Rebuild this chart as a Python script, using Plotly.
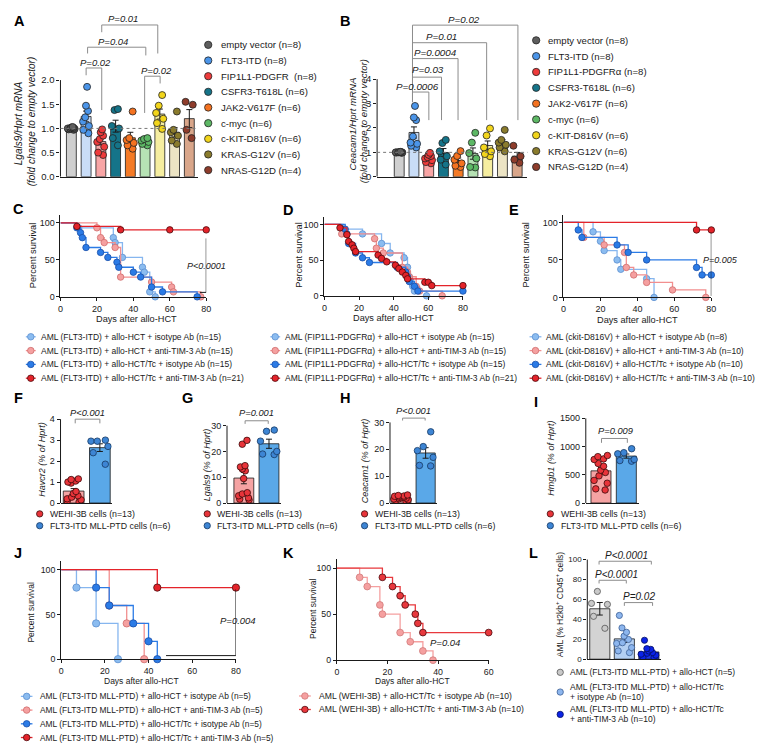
import numpy as np
import plotly.graph_objects as go

FONT = "Liberation Sans, Arial, Helvetica, sans-serif"
W, H = 768, 743
INK = '#1a1a1a'
BRK = '#8c8c8c'

# ---------------- DATA ----------------
# Panel A: Lgals9/Hprt mRNA (fold change to empty vector)
a_groups = ["empty vector (n=8)", "FLT3-ITD (n=8)", "FIP1L1-PDGFR\u00a0 (n=8)", "CSFR3-T618L (n=6)",
            "JAK2-V617F (n=6)", "c-myc (n=6)", "c-KIT-D816V (n=6)", "KRAS-G12V (n=6)", "NRAS-G12D (n=4)"]
a_empty = [1.0, 1.02, 0.98, 1.01, 0.99, 1.0, 1.03, 0.97]
a_flt3 = [1.86, 1.47, 1.36, 1.23, 1.14, 1.05, 0.97, 0.90]
a_fip = [0.98, 0.92, 0.85, 0.78, 0.72, 0.62, 0.50, 0.45]
a_csf = [1.40, 1.38, 1.05, 1.00, 0.80, 0.65]
a_jak = [1.35, 0.80, 0.76, 0.70, 0.65, 0.58]
a_myc = [0.80, 0.78, 0.75, 0.72, 0.68, 0.65]
a_kit = [1.69, 1.47, 1.32, 1.20, 1.11, 0.99]
a_kras = [1.35, 0.97, 0.92, 0.85, 0.75, 0.68]
a_nras = [1.55, 1.49, 0.97, 0.80]

# Panel B: Ceacam1/Hprt mRNA (fold change to empty vector)
b_groups = ["empty vector (n=8)", "FLT3-ITD (n=8)", "FIP1L1-PDGFR\u03b1 (n=8)", "CSFR3-T618L (n=6)",
            "JAK2-V617F (n=6)", "c-myc (n=6)", "c-KIT-D816V (n=6)", "KRAS-G12V (n=6)", "NRAS-G12D (n=4)"]
b_empty = [1.0, 1.01, 0.99, 1.02, 0.98, 1.0, 1.01, 0.99]
b_flt3 = [2.90, 2.43, 2.32, 1.65, 1.40, 1.35, 1.27, 1.20]
b_fip = [0.98, 0.90, 0.85, 0.80, 0.75, 0.68, 0.60, 0.55]
b_csf = [1.51, 1.38, 1.04, 0.84, 0.70, 0.50]
b_jak = [1.05, 0.85, 0.70, 0.55, 0.45, 0.40]
b_myc = [1.80, 1.40, 0.97, 0.75, 0.40, 0.38]
b_kit = [1.98, 1.69, 1.20, 1.04, 0.93, 0.84]
b_kras = [1.92, 1.51, 1.40, 1.31, 1.20, 1.04]
b_nras = [1.27, 0.84, 0.70, 0.57]

# Panel C: AML (FLT3-ITD) survival
c_labels = ["AML (FLT3-ITD) + allo-HCT + isotype Ab (n=15)", "AML (FLT3-ITD) + allo-HCT + anti-TIM-3 Ab (n=15)",
            "AML (FLT3-ITD) + allo-HCT/Tc + isotype Ab (n=15)", "AML (FLT3-ITD) + allo-HCT/Tc + anti-TIM-3 Ab (n=21)"]
c_hct_iso_t = [0, 10, 29, 30, 34, 45, 46, 49, 52]
c_hct_iso_s = [100, 93.3, 80, 73.3, 53.3, 40, 33.3, 6.7, 0]
c_hct_tim_t = [0, 20, 22, 24, 30, 33, 50, 61, 62, 77]
c_hct_tim_s = [100, 93.3, 80, 73.3, 66.7, 26.7, 20, 13.3, 6.7, 0]
c_tc_iso_t = [0, 9, 11, 12, 14, 22, 26, 31, 32, 40, 44, 50, 56, 75]
c_tc_iso_s = [100, 93.3, 86.7, 80, 66.7, 60, 53.3, 46.7, 40, 33.3, 26.7, 13.3, 6.7, 0]
c_tc_tim_t = [0, 9, 33, 60, 80]
c_tc_tim_s = [100, 95.2, 90.5, 90.5, 90.5]

# Panel D: AML (FIP1L1-PDGFRa) survival
d_labels = ["AML (FIP1L1-PDGFR\u03b1) + allo-HCT + isotype Ab (n=15)", "AML (FIP1L1-PDGFR\u03b1) + allo-HCT + anti-TIM-3 Ab (n=15)",
            "AML (FIP1L1-PDGFR\u03b1) + allo-HCT/Tc + isotype Ab (n=15)", "AML (FIP1L1-PDGFR\u03b1) + allo-HCT/Tc + anti-TIM-3 Ab (n=21)"]
d_hct_iso_t = [0, 11, 22, 33, 38, 46, 48, 49, 50, 51, 52, 59]
d_hct_iso_s = [100, 93.3, 86.7, 73.3, 60, 53.3, 40, 26.7, 20, 13.3, 6.7, 0]
d_hct_tim_t = [0, 10, 29, 30, 34, 45, 48, 49, 53, 55, 68]
d_hct_tim_s = [100, 86.7, 80, 66.7, 60, 40, 33.3, 26.7, 13.3, 6.7, 0]
d_tc_iso_t = [0, 12, 13, 14, 18, 22, 26, 42, 47, 48, 49, 52, 54, 80]
d_tc_iso_s = [100, 93.3, 86.7, 73.3, 60, 53.3, 46.7, 40, 33.3, 26.7, 20, 13.3, 6.7, 6.7]
d_tc_tim_t = [0, 9, 13, 14, 16, 17, 18, 31, 33, 36, 41, 43, 45, 47, 48, 58, 60, 62, 80]
d_tc_tim_s = [100, 95.2, 85.7, 76.2, 71.4, 66.7, 61.9, 57.1, 52.4, 47.6, 42.9, 38.1, 33.3, 28.6, 23.8, 19.0, 19.0, 14.3, 14.3]

# Panel E: AML (ckit-D816V) survival
e_labels = ["AML (ckit-D816V) + allo-HCT + isotype Ab (n=8)", "AML (ckit-D816V) + allo-HCT + anti-TIM-3 Ab (n=10)",
            "AML (ckit-D816V) + allo-HCT/Tc + isotype Ab (n=10)", "AML (ckit-D816V) + allo-HCT/Tc + anti-TIM-3 Ab (n=10)"]
e_hct_iso_t = [0, 16, 20, 22, 29, 31, 45, 49]
e_hct_iso_s = [100, 87.5, 75, 62.5, 50, 37.5, 25, 0]
e_hct_tim_t = [0, 11, 22, 33, 34, 38, 45, 59, 77]
e_hct_tim_s = [100, 80, 70, 60, 40, 30, 20, 10, 0]
e_tc_iso_t = [0, 8, 10, 29, 35, 45, 72, 75, 80]
e_tc_iso_s = [100, 90, 80, 70, 60, 50, 40, 30, 30]
e_tc_tim_t = [0, 72, 80]
e_tc_tim_s = [100, 90, 90]

# Panels F-I: expression in WEHI-3B vs FLT3-ITD MLL-PTD cells
fi_labels = ["WEHI-3B cells (n=13)", "FLT3-ITD MLL-PTD cells (n=6)"]
f_wehi = [1.15, 1.12, 1.05, 1.0, 0.95, 0.55, 0.45, 0.35, 0.28, 0.2, 0.15, 0.1, 0.05]
f_flt3 = [3.0, 2.95, 2.95, 2.7, 2.4, 1.85]
g_wehi = [24.3, 22.8, 14.5, 14.0, 13.2, 12.5, 9.5, 4.0, 3.5, 2.8, 2.0, 1.5, 1.2]
g_flt3 = [28.3, 27.8, 24.0, 20.0, 19.0, 18.8]
h_wehi = [3.0, 2.8, 2.6, 2.5, 2.3, 2.2, 2.0, 1.8, 1.6, 1.5, 1.2, 1.0, 0.8]
h_flt3 = [26.5, 21.0, 19.5, 17.0, 13.8, 14.0]
i_wehi = [840, 820, 780, 770, 700, 650, 580, 540, 480, 400, 350, 250, 230]
i_flt3 = [960, 890, 870, 770, 750, 740]

# Panel J: AML (FLT3-ITD MLL-PTD) survival
j_labels = ["AML (FLT3-ITD MLL-PTD) + allo-HCT + isotype Ab (n=5)", "AML (FLT3-ITD MLL-PTD) + allo-HCT + anti-TIM-3 Ab (n=5)",
            "AML (FLT3-ITD MLL-PTD) + allo-HCT/Tc + isotype Ab (n=5)", "AML (FLT3-ITD MLL-PTD) + allo-HCT/Tc + anti-TIM-3 Ab (n=5)"]
j_hct_iso_t = [0, 7, 16, 26]
j_hct_iso_s = [100, 80, 40, 0]
j_hct_tim_t = [0, 22, 30, 38]
j_hct_tim_s = [100, 60, 40, 0]
j_tc_iso_t = [0, 16, 22, 33, 40, 44]
j_tc_iso_s = [100, 80, 60, 40, 20, 0]
j_tc_tim_t = [0, 44, 80]
j_tc_tim_s = [100, 80, 80]

# Panel K: AML (WEHI-3B) survival
k_labels = ["AML (WEHI-3B) + allo-HCT/Tc + isotype Ab (n=10)", "AML (WEHI-3B) + allo-HCT/Tc + anti-TIM-3 Ab (n=10)"]
k_iso_t = [0, 9, 12, 17, 18, 25, 29, 34, 38]
k_iso_s = [100, 90, 80, 60, 50, 30, 20, 10, 0]
k_tim_t = [0, 18, 22, 25, 27, 31, 32, 34, 60]
k_tim_s = [100, 90, 80, 70, 60, 50, 40, 30, 30]

# Panel L: AML (% H2kb+ CD45+ cells)
l_labels = [["AML (FLT3-ITD MLL-PTD) + allo-HCT (n=5)"],
            ["AML (FLT3-ITD MLL-PTD) + allo-HCT/Tc", "+ isotype Ab (n=10)"],
            ["AML (FLT3-ITD MLL-PTD) + allo-HCT/Tc", "+ anti-TIM-3 Ab (n=10)"]]
l_hct = [68, 56, 55, 43, 31]
l_tc_iso = [43.9, 31.4, 27, 23.1, 19.8, 16.5, 15.8, 11.6, 8.3, 6.6]
l_tc_tim = [19, 10.6, 9.9, 8.3, 6.6, 5.9, 5, 4, 1.7, 1.7]

# ---------------- STYLE ----------------
ab_dot = ['#5e5e5e', '#4b95e9', '#ee3b3b', '#157489', '#f47220', '#5db865', '#f2d51b', '#8a7b2c', '#8e3c2b']
ab_fill = ['#cfcfcf', '#c9ddf7', '#f8a5a5', '#157489', '#f47a26', '#b6e2b4', '#f6eea0', '#ece4c4', '#d9a68a']
LB = ('#86b6ef', '#8bbcf0', '#5d8fcf')
PK = ('#f28f8f', '#f5a0a0', '#cf6d6d')
DB = ('#2b7be6', '#2b7be6', '#1b4fa8')
RD = ('#e4232a', '#e4232a', '#4a0a0c')
surv_styles = [LB, PK, DB, RD]
RED_DOT, RED_OUT, RED_FILL = '#e8343a', '#3a0a0a', '#f5a3a3'
BLU_DOT, BLU_OUT, BLU_FILL = '#3d85d4', '#163862', '#5aa8e8'

fig = go.Figure()
layout_axes = {}
shapes = []
annotations = []


def X(p):
    return p / W


def Y(p):
    return 1 - p / H


def span(va, pa, vb, pb, r0, r1):
    s = (pb - pa) / (vb - va)
    return pa + (r0 - va) * s, pa + (r1 - va) * s


def add_panel(n, xs, ys, xticks=None, yticks=None, yline_top=None, tsize=9, yfmt=None):
    x0p, x1p = span(*xs)
    y0p, y1p = span(*ys)
    xr = [xs[4], xs[5]]
    yr = [ys[4], ys[5]]
    sfx = '' if n == 1 else str(n)
    base = dict(showgrid=False, zeroline=False, linecolor=INK, linewidth=1, tickcolor=INK,
                tickwidth=1, ticklen=3, tickfont=dict(family=FONT, size=tsize, color=INK), fixedrange=True)
    xa = dict(base, domain=[X(x0p), X(x1p)], range=xr, anchor='y' + sfx, showline=True)
    if xticks is None:
        xa.update(ticks='', showticklabels=False)
    else:
        xa.update(ticks='outside', tickmode='array', tickvals=xticks)
    ya = dict(base, domain=[Y(y0p), Y(y1p)], range=yr, anchor='x' + sfx, ticks='outside',
              tickmode='array', tickvals=yticks, showline=yline_top is None)
    if yfmt:
        ya['tickformat'] = yfmt
    layout_axes['xaxis' + sfx] = xa
    layout_axes['yaxis' + sfx] = ya
    if yline_top is not None:
        shapes.append(dict(type='line', xref='x' + sfx + ' domain', yref='y' + sfx, x0=0, x1=0,
                           y0=yr[0], y1=yline_top, line=dict(color=INK, width=1)))
    return 'x' + sfx, 'y' + sfx


def bar_panel(xa, ya, groups, fills, dots, outs, bw, boxw, msize):
    means = [float(np.mean(v)) for v in groups]
    sems = [float(np.std(v, ddof=1) / np.sqrt(len(v))) for v in groups]
    fig.add_trace(go.Bar(x=list(range(len(groups))), y=means, width=bw,
                         marker=dict(color=fills, line=dict(color=INK, width=0.8)),
                         error_y=dict(type='data', array=sems, visible=True, color=INK, thickness=1, width=3),
                         xaxis=xa, yaxis=ya, hoverinfo='skip'))
    for i, v in enumerate(groups):
        fig.add_trace(go.Box(x=[i] * len(v), y=v, boxpoints='all', jitter=1.0, pointpos=0, width=boxw,
                             fillcolor='rgba(0,0,0,0)', line=dict(width=0, color='rgba(0,0,0,0)'),
                             whiskerwidth=0,
                             marker=dict(color=dots[i], size=msize, line=dict(color=outs[i], width=0.8)),
                             xaxis=xa, yaxis=ya, hoverinfo='y'))


def surv(xa, ya, t, s, style, msize=6.5, lw=1.3):
    lc, mc, oc = style
    fig.add_trace(go.Scatter(x=t, y=s, mode='lines+markers', line=dict(shape='hv', color=lc, width=lw),
                             marker=dict(size=msize, color=mc, opacity=[0] + [1] * (len(t) - 1),
                                         line=dict(color=oc, width=0.8)),
                             cliponaxis=False, xaxis=xa, yaxis=ya, hoverinfo='skip'))


def bracket(xa, ya, x1, x2, ytop, yl1, yl2, color=BRK):
    shapes.append(dict(type='path', xref=xa, yref=ya,
                       path=f'M {x1},{yl1} L {x1},{ytop} L {x2},{ytop} L {x2},{yl2}',
                       line=dict(color=color, width=1)))


def ptext(xa, ya, x, y, s, size=9.5, xanchor='center'):
    annotations.append(dict(xref=xa, yref=ya, x=x, y=y, text=f'<i>{s}</i>', showarrow=False,
                            xanchor=xanchor, yanchor='middle', borderpad=0,
                            font=dict(family=FONT, size=size, color=INK)))


def ptxt(px, py, s, size, xanchor='left', angle=0, color=INK):
    annotations.append(dict(xref='paper', yref='paper', x=X(px), y=Y(py), text=s, showarrow=False,
                            xanchor=xanchor, yanchor='middle', textangle=angle, borderpad=0,
                            font=dict(family=FONT, size=size, color=color)))


def ldot(cx, cy, r, fill, out):
    shapes.append(dict(type='circle', xref='paper', yref='paper', x0=X(cx - r), x1=X(cx + r),
                       y0=Y(cy + r), y1=Y(cy - r), fillcolor=fill, line=dict(color=out, width=0.8)))


def lline(x0, x1, cy, color):
    shapes.append(dict(type='line', xref='paper', yref='paper', x0=X(x0), x1=X(x1), y0=Y(cy), y1=Y(cy),
                       line=dict(color=color, width=1.3)))


def surv_legend(lx0, lx1, tx, y0, dy, labels, styles, size=9):
    for i, (lab, st) in enumerate(zip(labels, styles)):
        cy = y0 + dy * i
        lline(lx0, lx1, cy, st[0])
        ldot((lx0 + lx1) / 2, cy, 3.3, st[1], st[2])
        ptxt(tx, cy, lab, size)


# ---------------- PANEL A ----------------
xa, ya = add_panel(1, (0, 61.0, 1, 75.9, -0.74, 8.6), (0, 166, 2, 68, 0, 3.38),
                   yticks=[0, 0.5, 1.0, 1.5, 2.0], yline_top=2.0, tsize=9.5, yfmt='.1f')
shapes.append(dict(type='line', xref='x domain', yref='y', x0=0, x1=1, y0=1, y1=1,
                   line=dict(color='#777', width=1, dash='dot')))
bar_panel(xa, ya, [a_empty, a_flt3, a_fip, a_csf, a_jak, a_myc, a_kit, a_kras, a_nras],
          ab_fill, ab_dot, ['#222'] * 9, 0.67, 0.6, 7)
bracket(xa, ya, 1, 2.06, 2.25, 2.10, 1.38)
ptext(xa, ya, 1.62, 2.37, 'P=0.02')
bracket(xa, ya, 1.1, 5.05, 2.68, 2.55, 2.51)
ptext(xa, ya, 2.84, 2.79, 'P=0.04')
bracket(xa, ya, 2.06, 5.86, 3.14, 2.99, 2.55)
ptext(xa, ya, 3.51, 3.27, 'P=0.01')
bracket(xa, ya, 4.97, 6.02, 2.08, 1.32, 1.93)
ptext(xa, ya, 5.75, 2.2, 'P=0.02')
ptxt(8.3, 111.5, '<i>Lgals9/Hprt mRNA</i>', 10, xanchor='center', angle=-90)
ptxt(21, 110, '<i>(fold change to empty vector)</i>', 10, xanchor='center', angle=-90)
for i, g in enumerate(a_groups):
    cy = 32.3 + 15.87 * i
    ldot(199.3, cy, 3.7, ab_dot[i], '#222')
    ptxt(211.7, cy, g, 9.6)

# ---------------- PANEL B ----------------
xa, ya = add_panel(2, (0, 392.3, 1, 407.2, -1.5, 8.7), (0, 166, 4, 67, 0, 6.65),
                   yticks=[0, 1, 2, 3, 4], yline_top=4, tsize=9.5)
shapes.append(dict(type='line', xref='x2 domain', yref='y2', x0=0, x1=1, y0=1, y1=1,
                   line=dict(color='#777', width=1, dash='dot')))
bar_panel(xa, ya, [b_empty, b_flt3, b_fip, b_csf, b_jak, b_myc, b_kit, b_kras, b_nras],
          ab_fill, ab_dot, ['#222'] * 9, 0.67, 0.6, 7)
for x2, ytop, tx, ty, lab in [(2.01, 3.47, 1.21, 3.71, 'P=0.0006'), (2.87, 4.08, 1.98, 4.39, 'P=0.03'),
                               (3.99, 4.84, 2.46, 5.09, 'P=0.0004'), (5.93, 5.49, 2.85, 5.74, 'P=0.01'),
                               (8.05, 6.21, 4.42, 6.46, 'P=0.02')]:
    bracket(xa, ya, 0.9, x2, ytop, 3.06, 2.32)
    ptext(xa, ya, tx, ty, lab, size=9.8)
ptxt(345.5, 112, '<i>Ceacam1/Hprt mRNA</i>', 9.6, xanchor='center', angle=-90)
ptxt(356.5, 110, '<i>(fold change to empty vector)</i>', 9.6, xanchor='center', angle=-90)
for i, g in enumerate(b_groups):
    cy = 27.7 + 16.04 * i
    ldot(530.7, cy, 3.7, ab_dot[i], '#222')
    ptxt(542, cy, g, 9.6)

# ---------------- PANELS C, D, E ----------------
surv_cfg = [
    (3, (0, 50, 80, 197.3, 0, 80), (0, 287.7, 100, 212.7, 0, 110),
     [(c_hct_iso_t, c_hct_iso_s), (c_hct_tim_t, c_hct_tim_s), (c_tc_iso_t, c_tc_iso_s), (c_tc_tim_t, c_tc_tim_s)],
     (21.7, 246), (126.7, 309.8), (15, 25, 29.3), c_labels),
    (4, (0, 316.7, 80, 456.7, 0, 80), (0, 286.7, 100, 214.3, 0, 110),
     [(d_hct_iso_t, d_hct_iso_s), (d_hct_tim_t, d_hct_tim_s), (d_tc_iso_t, d_tc_iso_s), (d_tc_tim_t, d_tc_tim_s)],
     (291, 245), (387, 309.5), (262, 272, 275.5), d_labels),
    (5, (0, 558.3, 80, 707.7, 0, 80), (0, 288.3, 100, 212.3, 0, 110),
     [(e_hct_iso_t, e_hct_iso_s), (e_hct_tim_t, e_hct_tim_s), (e_tc_iso_t, e_tc_iso_s), (e_tc_tim_t, e_tc_tim_s)],
     (520, 245.3), (633.3, 310.8), (524, 536, 540), e_labels),
]
surv_axes = {}
for n, xs, ys, curves, ytl, xtl, leg, labels in surv_cfg:
    xa, ya = add_panel(n, xs, ys, xticks=[0, 20, 40, 60, 80], yticks=[0, 50, 100], tsize=9)
    surv_axes[n] = (xa, ya)
    for (t, s), st in zip(curves, surv_styles):
        surv(xa, ya, t, s, st, msize=6.5)
    ptxt(ytl[0], ytl[1], 'Percent survival', 9.2, xanchor='center', angle=-90)
    ptxt(xtl[0], xtl[1], 'Days after allo-HCT', 9.2, xanchor='center')
    surv_legend(leg[0], leg[1], leg[2], 328.2, 14.0, labels, surv_styles, size=8.5)

xa, ya = surv_axes[3]
bracket(xa, ya, 80, 76.5, 6, 79, 6, color=INK)
ptext(xa, ya, 79.9, 42, 'P&lt;0.0001', size=9)
xa, ya = surv_axes[5]
shapes.append(dict(type='line', xref=xa, yref=ya, x0=80, x1=80, y0=87, y1=2, line=dict(color=INK, width=1)))
ptext(xa, ya, 74.8, 50.4, 'P=0.005', size=9, xanchor='left')

# ---------------- PANELS F, G, H, I ----------------
fi_cfg = [
    (6, (0, 63.3, 1, 89.8, -0.5, 1.45), (0, 496.7, 4, 411.7, 0, 4.5), [0, 1, 2, 3, 4], 4,
     f_wehi, f_flt3, (0.06, 1.0, 4.0, 3.8), (0.53, 4.3, 'P&lt;0.001'), (31.7, 452.5, 'Havcr2 (% of Hprt)'), (29, 38.3)),
    (7, (0, 235.3, 1, 260.7, -0.67, 1.48), (0, 496.7, 30, 418.3, 0, 36.5), [0, 10, 20, 30], 30,
     g_wehi, g_flt3, (0.05, 0.97, 31.9, 30.7), (0.5, 35.1, 'P=0.001'), (198, 457.5, 'Lgals9 (% of Hprt)'), (198.3, 207.3)),
    (8, (0, 394.5, 1, 419.0, -0.47, 1.45), (0, 496.7, 30, 415, 0, 35.5), [0, 10, 20, 30], 30,
     h_wehi, h_flt3, (0.05, 0.98, 31.6, 30.7), (0.52, 34.1, 'P&lt;0.001'), (358, 454, 'Ceacam1 (% of Hprt)'), (357.3, 366.7)),
    (9, (0, 596.2, 1, 621.8, -0.6, 1.52), (0, 496.7, 1500, 410.7, 0, 1500), [0, 500, 1000, 1500], 1500,
     i_wehi, i_flt3, (0.02, 1.04, 1141, 1064), (0.57, 1281, 'P=0.009'), (545.7, 451.7, 'Hmgb1 (% of Hprt)'), (545, 555)),
]
for n, xs, ys, yt, ytop, w, f, br, pt, ttl, leg in fi_cfg:
    xa, ya = add_panel(n, xs, ys, yticks=yt, yline_top=ytop, tsize=9)
    bar_panel(xa, ya, [w, f], [RED_FILL, BLU_FILL], [RED_DOT, BLU_DOT], [RED_OUT, BLU_OUT], 0.79, 0.8, 6.5)
    bracket(xa, ya, br[0], br[1], br[2], br[3], br[3])
    ptext(xa, ya, pt[0], pt[1], pt[2], size=9.3)
    ptxt(ttl[0], ttl[1], f'<i>{ttl[2]}</i>', 9.0, xanchor='center', angle=-90)
    for i, (lab, c, oc) in enumerate(zip(fi_labels, [RED_DOT, BLU_DOT], [RED_OUT, BLU_OUT])):
        cy = 507.7 + 12.0 * i
        ldot(leg[0], cy, 3.2, c, oc)
        ptxt(leg[1], cy, lab, 8.8)

# ---------------- PANEL J ----------------
xa, ya = add_panel(10, (0, 50.7, 80, 227.3, 0, 80), (0, 655, 100, 564.3, 0, 110),
                   xticks=[0, 20, 40, 60, 80], yticks=[0, 50, 100], tsize=8.8)
for (t, s), st in zip([(j_hct_iso_t, j_hct_iso_s), (j_hct_tim_t, j_hct_tim_s), (j_tc_iso_t, j_tc_iso_s),
                       (j_tc_tim_t, j_tc_tim_s)], surv_styles):
    surv(xa, ya, t, s, st, msize=7.3)
bracket(xa, ya, 80, 48, 4, 78, 4, color=INK)
ptext(xa, ya, 72.2, 43, 'P=0.004', size=9.5, xanchor='left')
ptxt(20.7, 607.3, 'Percent survival', 8.5, xanchor='center', angle=-90)
ptxt(131.7, 677, 'Days after allo-HCT', 8.5, xanchor='center')
surv_legend(10, 21.7, 28.3, 692.7, 13.9, j_labels, surv_styles, size=8.4)

# ---------------- PANEL K ----------------
K_PK = ('#f5a0a0', '#f5a0a0', '#d07a7a')
K_RD = ('#e8383d', '#e8383d', '#4a0a0c')
xa, ya = add_panel(11, (0, 329.3, 60, 482.7, 0, 60), (0, 656, 100, 562.7, 0, 110),
                   xticks=[0, 20, 40, 60], yticks=[0, 50, 100], tsize=8.8)
surv(xa, ya, k_iso_t, k_iso_s, K_PK, msize=6.8)
surv(xa, ya, k_tim_t, k_tim_s, K_RD, msize=6.8)
ptext(xa, ya, 42.7, 19, 'P=0.04', size=9.5)
ptxt(305, 603.3, 'Percent survival', 8.5, xanchor='center', angle=-90)
ptxt(406, 677, 'Days after allo-HCT', 8.5, xanchor='center')
surv_legend(291, 303, 310, 692.3, 13.7, k_labels, [K_PK, K_RD], size=8.6)

# ---------------- PANEL L ----------------
L_DOT = ['#c9c9c9', '#8db6ee', '#0b23e6']
L_OUT = ['#555555', '#3c5f95', '#050f60']
L_FILL = ['#d3d3d3', '#b3cff3', '#1a35e8']
xa, ya = add_panel(12, (0, 595, 1, 619.8, -0.51, 2.5), (0, 655, 100, 554, 0, 108),
                   yticks=[0, 20, 40, 60, 80, 100], yline_top=100, tsize=8)
bar_panel(xa, ya, [l_hct, l_tc_iso, l_tc_tim], L_FILL, L_DOT, L_OUT, 0.82, 0.8, 6.2)
bracket(xa, ya, -0.03, 2.1, 98.3, 95, 95)
ptext(xa, ya, 1.08, 104, 'P&lt;0.0001', size=10)
bracket(xa, ya, -0.03, 1.08, 79.2, 76, 76)
ptext(xa, ya, 0.67, 85, 'P&lt;0.0001', size=10)
bracket(xa, ya, 1.0, 2.15, 56.8, 53.5, 53.5)
ptext(xa, ya, 1.61, 62.7, 'P=0.02', size=10)
ptxt(555, 599, 'AML (% H2kb<sup>+</sup> CD45<sup>+</sup> cells)', 8.5, xanchor='center', angle=-90)
l_rows = [[668.3], [683.3, 693.3], [706, 716]]
for i, (lines, rows) in enumerate(zip(l_labels, l_rows)):
    ldot(555, sum(rows) / len(rows), 3.2, L_DOT[i], L_OUT[i])
    for ln, ry in zip(lines, rows):
        ptxt(564, ry, ln, 8.5)

# ---------------- PANEL LABELS ----------------
for lab, cx, cy in [('A', 8.8, 7.7), ('B', 337.5, 8), ('C', 7.5, 198.7), ('D', 280, 199.5), ('E', 508, 199.5),
                    ('F', 7.5, 390), ('G', 178, 390), ('H', 338, 390), ('I', 530.5, 394.5),
                    ('J', 6.7, 547), ('K', 280, 547), ('L', 528, 547.5)]:
    ptxt(cx, cy, f'<b>{lab}</b>', 14.5, xanchor='center', color='#000')

fig.update_layout(width=W, height=H, margin=dict(l=0, r=0, t=0, b=0), paper_bgcolor='white',
                  plot_bgcolor='rgba(0,0,0,0)', showlegend=False, boxmode='overlay', barmode='overlay',
                  font=dict(family=FONT, color=INK), shapes=shapes, annotations=annotations, **layout_axes)
fig.write_html("out.html")
